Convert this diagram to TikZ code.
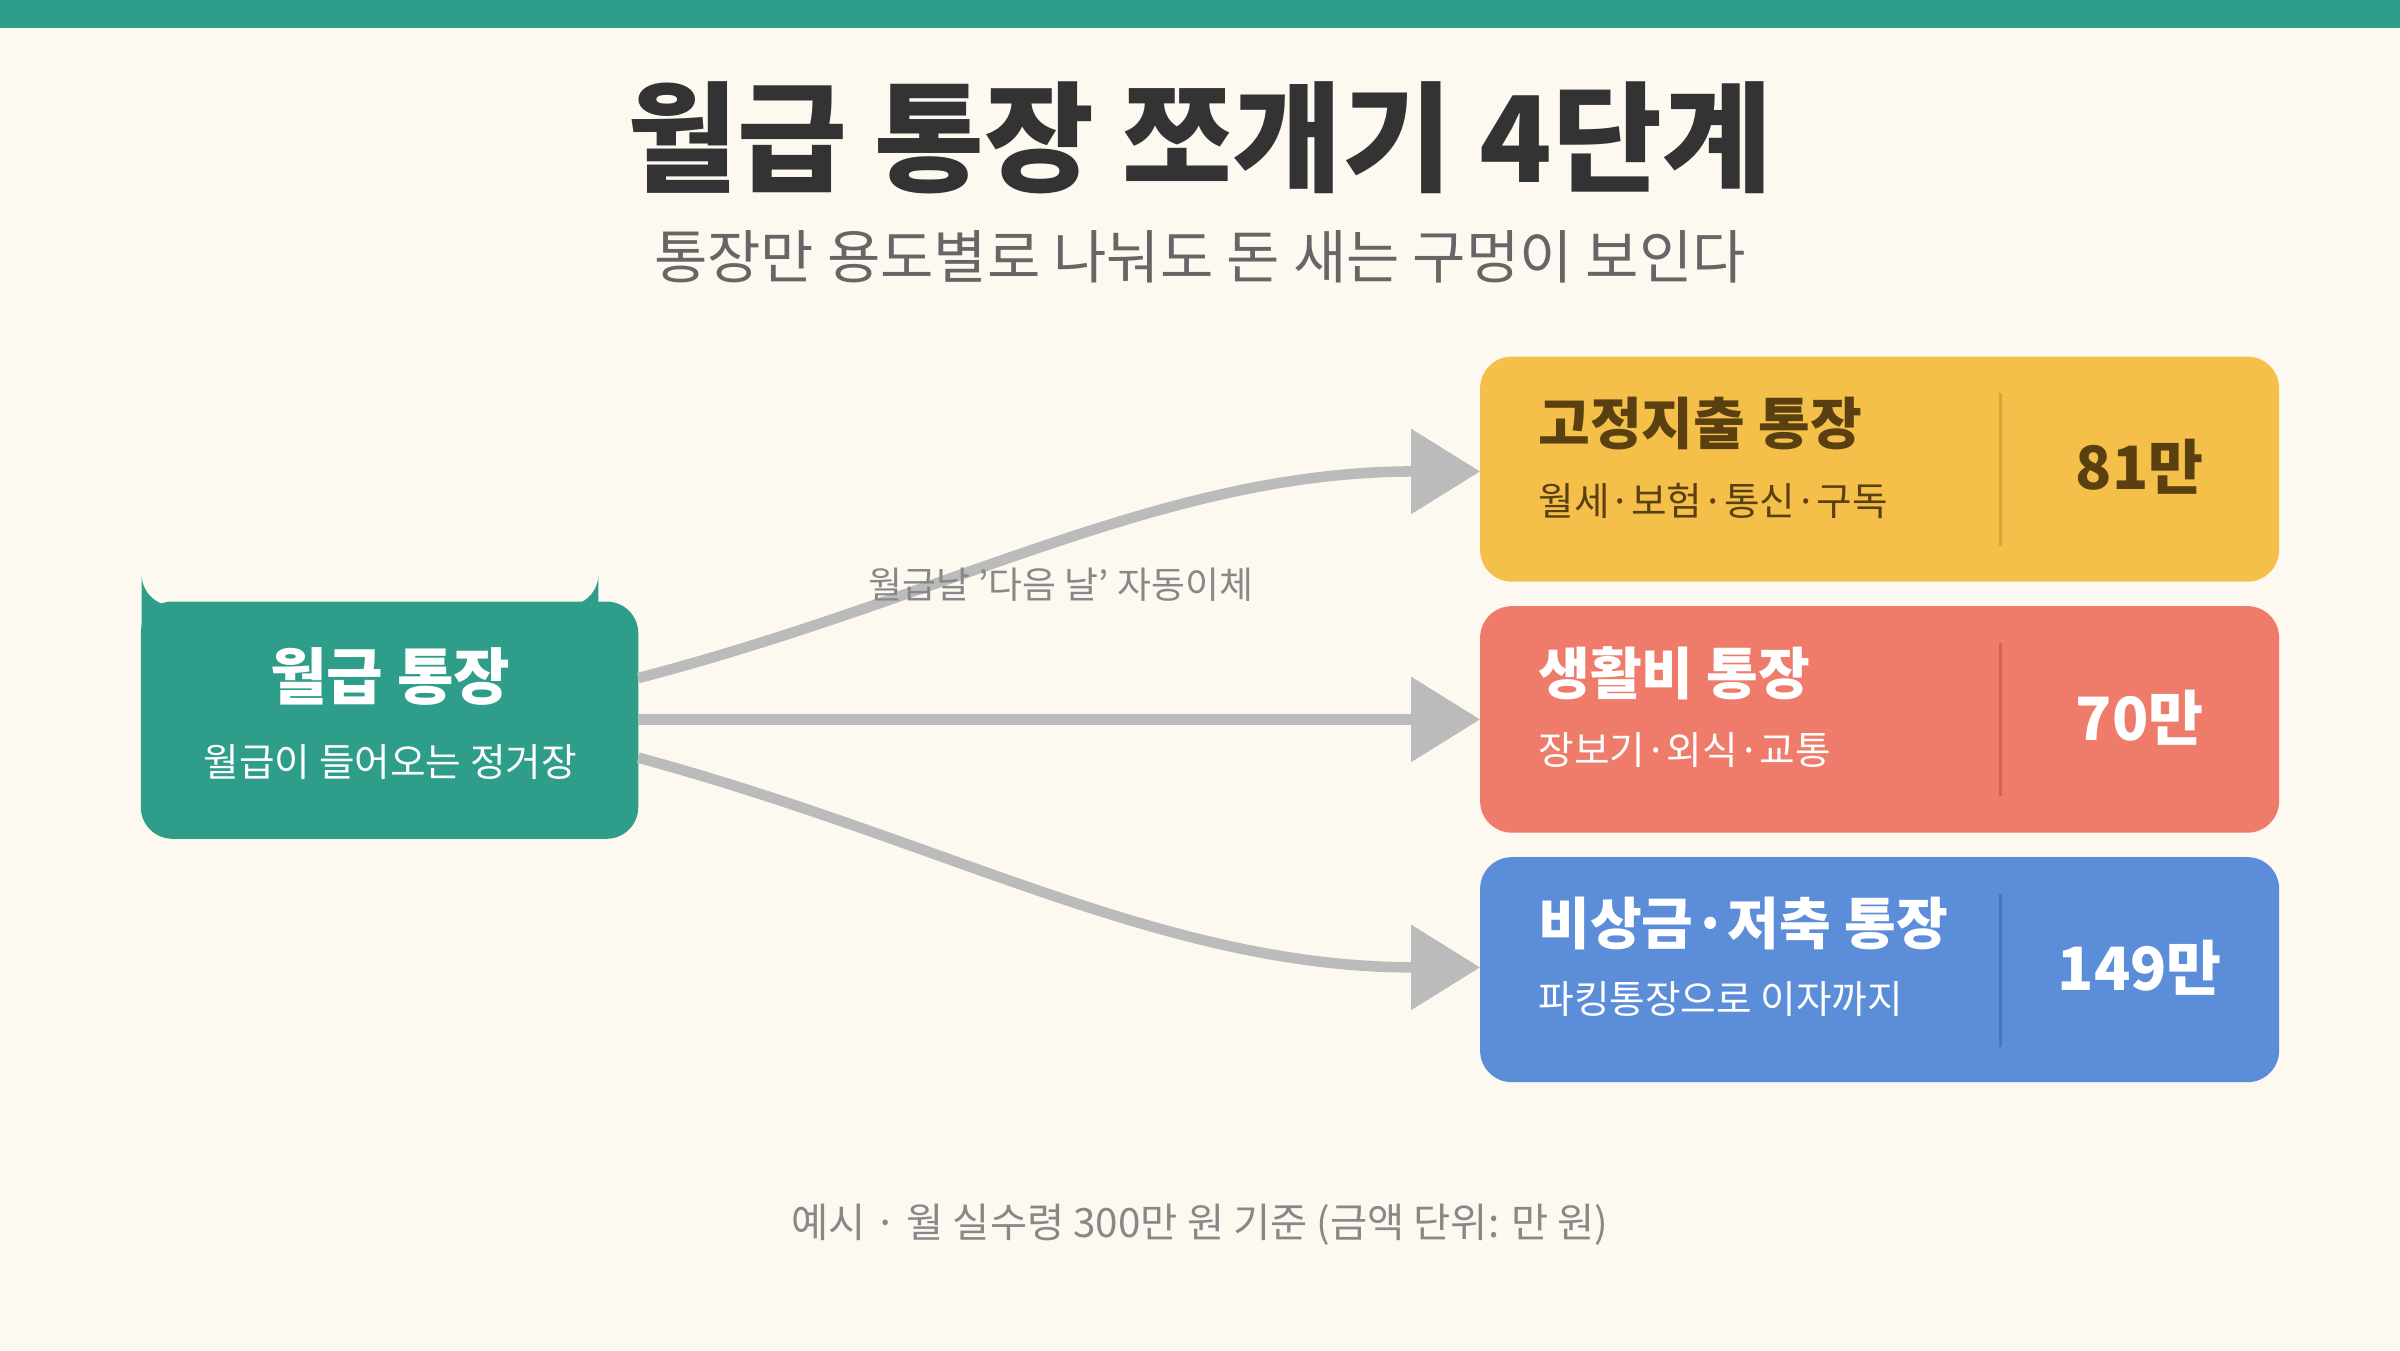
\documentclass[tikz,border=0pt]{standalone}
\usepackage{fontspec}
\setmainfont{Noto Sans CJK KR}
\usetikzlibrary{arrows.meta}
\definecolor{bg}{HTML}{FDF8F0}
\definecolor{teal}{HTML}{2E9E8A}
\definecolor{ink}{HTML}{333333}
\definecolor{sub}{HTML}{666666}
\definecolor{note}{HTML}{888888}
\definecolor{arr}{HTML}{BBBBBB}
\definecolor{yel}{HTML}{F4C04A}
\definecolor{yeltxt}{HTML}{5A4010}
\definecolor{yeldiv}{HTML}{D9A53A}
\definecolor{red}{HTML}{EF7B6A}
\definecolor{reddiv}{HTML}{D9604F}
\definecolor{blu}{HTML}{5B8DD9}
\definecolor{bludiv}{HTML}{4674BF}
\begin{document}
\begin{tikzpicture}[x=0.015306cm,y=-0.015306cm,
  box/.style={rounded corners=9pt,anchor=north west,inner sep=0pt},
  ttl/.style={anchor=west,font=\fontsize{16}{18}\selectfont\bfseries},
  stx/.style={anchor=west,font=\fontsize{11}{13}\selectfont},
  val/.style={anchor=center,font=\fontsize{17}{19}\selectfont\bfseries},
  link/.style={draw=arr,line width=3pt,-{Triangle[length=19.6pt,width=23.5pt]}}]
\useasboundingbox (0,0) rectangle (1568,882);
\fill[bg] (0,0) rectangle (1568,882);
\fill[teal] (0,0) rectangle (1568,18);
\node[text=ink,font=\fontsize{34}{38}\selectfont\bfseries] (title) at (784,90) {월급 통장 쪼개기 4단계};
\node[text=sub,font=\fontsize{16.5}{19}\selectfont] (subtitle) at (784,168) {통장만 용도별로 나눠도 돈 새는 구멍이 보인다};
% left
\node[box,fill=teal,minimum width=325\pgflinewidth,text width=0pt] (src) at (92,393) {};
\fill[teal,rounded corners=9pt] (92,393) rectangle (417,548);
\coordinate (srcA) at (417,443);
\coordinate (srcB) at (417,470);
\coordinate (srcC) at (417,495);
\node[text=white,font=\fontsize{17.5}{20}\selectfont\bfseries] (srct) at (255,442) {월급 통장};
\node[text=white,font=\fontsize{11}{13}\selectfont] (srcs) at (255,498) {월급이 들어오는 정거장};
% right boxes
\fill[yel,rounded corners=9pt] (967,233) rectangle (1489,380);
\draw[yeldiv,line width=1pt] (1307,257) -- (1307,357);
\node[ttl,text=yeltxt] (t1) at (997,277) {고정지출 통장};
\node[stx,text=yeltxt] (s1) at (997,327) {월세·보험·통신·구독};
\node[val,text=yeltxt] (v1) at (1398,305) {81만};
\coordinate (in1) at (967,308);
\fill[red,rounded corners=9pt] (967,396) rectangle (1489,544);
\draw[reddiv,line width=1pt] (1307,420) -- (1307,520);
\node[ttl,text=white] (t2) at (997,440) {생활비 통장};
\node[stx,text=white] (s2) at (997,490) {장보기·외식·교통};
\node[val,text=white] (v2) at (1398,469) {70만};
\coordinate (in2) at (967,470);
\fill[blu,rounded corners=9pt] (967,560) rectangle (1489,707);
\draw[bludiv,line width=1pt] (1307,584) -- (1307,684);
\node[ttl,text=white] (t3) at (997,603) {비상금·저축 통장};
\node[stx,text=white] (s3) at (997,653) {파킹통장으로 이자까지};
\node[val,text=white] (v3) at (1398,632) {149만};
\coordinate (in3) at (967,632);
% arrows
\draw[link] (srcA) .. controls (620,390) and (760,308) .. (in1);
\draw[link] (srcB) -- (in2);
\draw[link] (srcC) .. controls (620,550) and (760,632) .. (in3);
\node[text=note,font=\fontsize{10.5}{12}\selectfont] (lbl) at (693,382) {월급날 '다음 날' 자동이체};
\node[text=note,font=\fontsize{11.5}{13}\selectfont] (foot) at (784,800) {예시 · 월 실수령 300만 원 기준 (금액 단위: 만 원)};
\end{tikzpicture}
\end{document}
